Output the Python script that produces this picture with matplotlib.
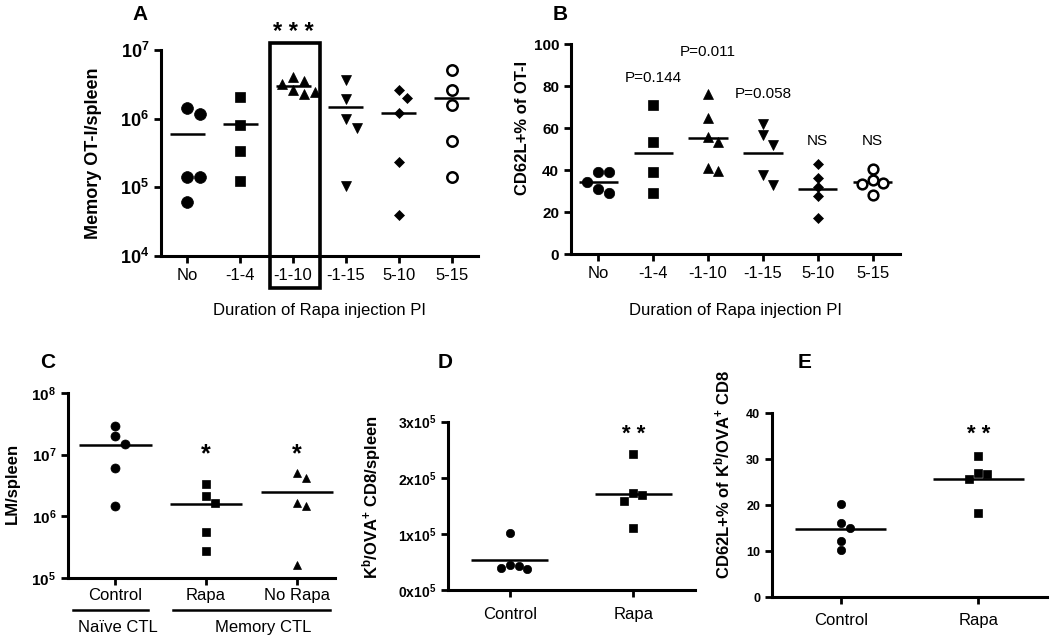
import matplotlib
matplotlib.use('Agg')
import matplotlib.pyplot as plt
import matplotlib.transforms as mtransforms
from matplotlib.patches import Rectangle
from matplotlib.ticker import NullLocator
import numpy as np

plt.rcParams['font.family'] = ['Liberation Sans', 'DejaVu Sans']
plt.rcParams['mathtext.fontset'] = 'custom'
plt.rcParams['mathtext.rm'] = 'Liberation Sans'
plt.rcParams['mathtext.bf'] = 'Liberation Sans:bold'
plt.rcParams['mathtext.it'] = 'Liberation Sans:italic'

# ---- Panel A / B: duration of Rapa injection ----
durations = ['No', '-1-4', '-1-10', '-1-15', '5-10', '5-15']

# Memory OT-I per spleen
a_no = [1.17e6, 1.45e6, 1.4e5, 1.4e5, 6.2e4]
a_m1_4 = [2.1e6, 8.1e5, 3.4e5, 1.23e5]
a_m1_10 = [4.1e6, 3.5e6, 3.2e6, 2.6e6, 2.25e6, 2.45e6]
a_m1_15 = [3.6e6, 1.95e6, 1.0e6, 7.2e5, 1.05e5]
a_5_10 = [2.6e6, 2.0e6, 1.2e6, 2.3e5, 4.0e4]
a_5_15 = [5.2e6, 2.6e6, 1.6e6, 4.8e5, 1.4e5]

# CD62L+ % of OT-I
b_no = [39, 39, 34.5, 29, 31]
b_m1_4 = [71, 53.3, 39, 29]
b_m1_10 = [76, 65, 53.3, 55.7, 39.5, 41]
b_m1_15 = [62, 56.7, 52, 37.6, 33]
b_5_10 = [43, 36, 32, 27.6, 17.3]
b_5_15 = [40.5, 33.8, 35.2, 33.3, 28]
b_pvalues = ['P=0.144', 'P=0.011', 'P=0.058', 'NS', 'NS']
b_pvalue_y = [84, 96, 76, 54, 54]

# ---- Panel C: LM per spleen ----
c_groups = ['Control', 'Rapa', 'No Rapa']
c_control = [2.95e7, 2.0e7, 1.48e7, 6.0e6, 1.48e6]
c_rapa = [3.4e6, 2.1e6, 1.62e6, 5.6e5, 2.75e5]
c_norapa = [5.1e6, 4.2e6, 1.62e6, 1.48e6, 1.6e5]

# ---- Panel D / E ----
de_groups = ['Control', 'Rapa']
d_control = [1.02e5, 0.43e5, 0.37e5, 0.40e5, 0.45e5]
d_rapa = [2.42e5, 1.69e5, 1.73e5, 1.59e5, 1.10e5]
e_control = [20.3, 16.1, 15.0, 12.3, 10.3]
e_rapa = [30.7, 26.8, 27.0, 25.7, 18.4]

W, H = 1050, 641
fig = plt.figure(figsize=(W / 100, H / 100), dpi=100)


def px_rect(left, right, top, bottom):
    return [left / W, 1 - bottom / H, (right - left) / W, (bottom - top) / H]


def swarm(ax, vals, d):
    """Spread overlapping points sideways (in pixels), return offsets in data units."""
    vals = np.asarray(vals, dtype=float)
    ys = ax.transData.transform(np.column_stack([np.zeros(len(vals)), vals]))[:, 1]
    order = np.argsort(-ys)
    placed = []
    offs = np.zeros(len(vals))
    cands = [0]
    for k in range(1, 6):
        cands += [k * d, -k * d]
    for i in order:
        for c in cands:
            if all((c - px) ** 2 + (ys[i] - py) ** 2 >= d ** 2 for px, py in placed):
                break
        offs[i] = c
        placed.append((c, ys[i]))
    x0 = ax.transData.transform([[0, vals[0]]])[0, 0]
    x1 = ax.transData.transform([[1, vals[0]]])[0, 0]
    return offs / (x1 - x0)


def draw_groups(ax, groups, styles, width=0.33):
    for i, (vals, (m, ms, fc)) in enumerate(zip(groups, styles)):
        offs = swarm(ax, vals, ms * 1.389 * 1.05)
        ax.plot(i + offs, vals, linestyle='none', marker=m, ms=ms,
                mfc=fc, mec='black', mew=1.8 if fc == 'white' else 0.5, zorder=3)
        ax.hlines(np.mean(vals), i - width, i + width, color='black', lw=1.8, zorder=2)


def style_axes(ax, tick_size):
    for s in ['top', 'right']:
        ax.spines[s].set_visible(False)
    for s in ['left', 'bottom']:
        ax.spines[s].set_linewidth(2.2)
    ax.tick_params(width=2, length=5, direction='out', labelsize=tick_size)
    ax.yaxis.set_minor_locator(NullLocator())


# ================= Panel A =================
axA = fig.add_axes(px_rect(161, 478, 50, 256))
axA.set_yscale('log')
axA.set_ylim(1e4, 1e7)
axA.set_xlim(-0.5, 5.5)
style_axes(axA, 12)
axA.set_yticks([1e4, 1e5, 1e6, 1e7])
axA.set_yticklabels([r'$\mathbf{10^{%d}}$' % p for p in [4, 5, 6, 7]], fontsize=13)
axA.set_xticks(range(len(durations)))
axA.set_xticklabels(durations, fontsize=12)
styles_ab = [('o', 8.5, 'black'), ('s', 7.5, 'black'), ('^', 7.5, 'black'),
             ('v', 7.5, 'black'), ('D', 5.5, 'black'), ('o', 7.5, 'white')]
draw_groups(axA, [a_no, a_m1_4, a_m1_10, a_m1_15, a_5_10, a_5_15], styles_ab)
axA.set_ylabel('Memory OT-I/spleen', fontsize=13, fontweight='bold')
axA.yaxis.set_label_coords(-0.185, 0.5)
axA.set_xlabel('Duration of Rapa injection PI', fontsize=12)
axA.xaxis.set_label_coords(0.5, -0.228)
blend = mtransforms.blended_transform_factory(axA.transData, axA.transAxes)
axA.add_patch(Rectangle((1.56, -0.155), 0.95, 1.19, transform=blend, fill=False,
                        lw=2.6, edgecolor='black', clip_on=False, zorder=4))
axA.text(2, 1.085, '* * *', transform=blend, ha='center', va='center',
         fontsize=17, fontweight='bold')
fig.text(140 / W, 1 - 14 / H, 'A', fontsize=15, fontweight='bold', ha='center', va='center')

# ================= Panel B =================
axB = fig.add_axes(px_rect(571, 900, 44, 254))
axB.set_ylim(0, 100)
axB.set_xlim(-0.5, 5.5)
style_axes(axB, 11)
axB.set_yticks(range(0, 101, 20))
for lab in axB.get_yticklabels():
    lab.set_fontweight('bold')
axB.set_xticks(range(len(durations)))
axB.set_xticklabels(durations, fontsize=12)
styles_b = [('o', 7.5, 'black'), ('s', 7, 'black'), ('^', 7, 'black'),
            ('v', 7, 'black'), ('D', 5, 'black'), ('o', 7, 'white')]
draw_groups(axB, [b_no, b_m1_4, b_m1_10, b_m1_15, b_5_10, b_5_15], styles_b, width=0.36)
for i, (txt, yv) in enumerate(zip(b_pvalues, b_pvalue_y)):
    axB.text(i + 1, yv, txt, ha='center', va='center', fontsize=11)
axB.set_ylabel('CD62L+% of OT-I', fontsize=12, fontweight='bold')
axB.yaxis.set_label_coords(-0.125, 0.6)
axB.set_xlabel('Duration of Rapa injection PI', fontsize=12)
axB.xaxis.set_label_coords(0.5, -0.233)
fig.text(560 / W, 1 - 14 / H, 'B', fontsize=15, fontweight='bold', ha='center', va='center')

# ================= Panel C =================
axC = fig.add_axes(px_rect(68, 335, 393, 578))
axC.set_yscale('log')
axC.set_ylim(1e5, 1e8)
axC.set_xlim(-0.52, 2.42)
style_axes(axC, 11)
axC.set_yticks([1e5, 1e6, 1e7, 1e8])
axC.set_yticklabels([r'$\mathbf{10^{%d}}$' % p for p in [5, 6, 7, 8]], fontsize=11)
axC.set_xticks(range(len(c_groups)))
axC.set_xticklabels(c_groups, fontsize=12)
axC.tick_params(axis='x', pad=2)
styles_c = [('o', 6.5, 'black'), ('s', 6, 'black'), ('^', 6, 'black')]
draw_groups(axC, [c_control, c_rapa, c_norapa], styles_c, width=0.4)
for i in [1, 2]:
    axC.text(i, 1.0e7, '*', ha='center', va='center', fontsize=18, fontweight='bold')
axC.set_ylabel('LM/spleen', fontsize=12, fontweight='bold')
axC.yaxis.set_label_coords(-0.18, 0.51)
blendC = mtransforms.blended_transform_factory(axC.transData, axC.transAxes)
axC.plot([-0.46, 0.36], [-0.173, -0.173], color='black', lw=1.8,
         transform=blendC, clip_on=False)
axC.plot([0.64, 2.36], [-0.173, -0.173], color='black', lw=1.8,
         transform=blendC, clip_on=False)
axC.text(0.03, -0.265, 'Naïve CTL', transform=blendC, ha='center', va='center', fontsize=12)
axC.text(1.63, -0.265, 'Memory CTL', transform=blendC, ha='center', va='center', fontsize=12)
fig.text(48 / W, 1 - 363 / H, 'C', fontsize=15, fontweight='bold', ha='center', va='center')

# ================= Panel D =================
axD = fig.add_axes(px_rect(448, 695, 421.7, 590))
axD.set_ylim(0, 3e5)
axD.set_xlim(-0.5, 1.5)
style_axes(axD, 9)
axD.set_yticks([0, 1e5, 2e5, 3e5])
axD.set_yticklabels([r'$\mathbf{%dx10^{5}}$' % k for k in range(4)], fontsize=10)
axD.set_xticks(range(len(de_groups)))
axD.set_xticklabels(de_groups, fontsize=12)
axD.tick_params(axis='x', pad=7)
draw_groups(axD, [d_control, d_rapa], [('o', 6, 'black'), ('s', 6, 'black')], width=0.31)
axD.text(1, 2.78e5, '* *', ha='center', va='center', fontsize=16, fontweight='bold')
axD.set_ylabel(r'K$^{\mathbf{b}}$/OVA$^{\mathbf{+}}$ CD8/spleen', fontsize=12, fontweight='bold')
axD.yaxis.set_label_coords(-0.263, 0.55)
fig.text(445 / W, 1 - 363 / H, 'D', fontsize=15, fontweight='bold', ha='center', va='center')

# ================= Panel E =================
axE = fig.add_axes(px_rect(772, 1047, 413.3, 597.3))
axE.set_ylim(0, 40)
axE.set_xlim(-0.5, 1.5)
style_axes(axE, 9)
axE.set_yticks(range(0, 41, 10))
for lab in axE.get_yticklabels():
    lab.set_fontweight('bold')
axE.set_xticks(range(len(de_groups)))
axE.set_xticklabels(de_groups, fontsize=12)
axE.tick_params(axis='x', pad=6)
draw_groups(axE, [e_control, e_rapa], [('o', 6, 'black'), ('s', 6, 'black')], width=0.33)
axE.text(1, 35.5, '* *', ha='center', va='center', fontsize=16, fontweight='bold')
axE.set_ylabel(r'CD62L+% of K$^{\mathbf{b}}$/OVA$^{\mathbf{+}}$ CD8', fontsize=12, fontweight='bold')
axE.yaxis.set_label_coords(-0.145, 0.67)
fig.text(805 / W, 1 - 363 / H, 'E', fontsize=15, fontweight='bold', ha='center', va='center')

fig.savefig('out.png', dpi=100)
